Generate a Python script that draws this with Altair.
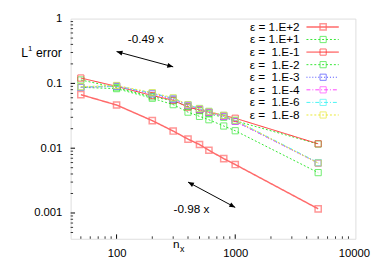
import altair as alt
import pandas as pd

NB = "\u00a0"
nx = [50, 100, 200, 300, 400, 500, 600, 800, 1000, 5000]
labels = ["ε = 1.E+2", "ε = 1.E+1", "ε = " + NB + "1.E-1", "ε = " + NB + "1.E-2",
          "ε = " + NB + "1.E-3", "ε = " + NB + "1.E-4", "ε = " + NB + "1.E-6", "ε = " + NB + "1.E-8"]
err_p2 = [0.067, 0.0464, 0.0266, 0.0184, 0.0138, 0.0114, 0.0093, 0.0069, 0.0056, 0.00116]
err_p1 = [0.113, 0.086, 0.062, 0.054, 0.044, 0.038, 0.034, 0.030, 0.0265, 0.0116]
err_m1 = [0.121, 0.090, 0.065, 0.055, 0.043, 0.039, 0.036, 0.032, 0.029, 0.0117]
err_m2 = [0.087, 0.083, 0.059, 0.047, 0.036, 0.031, 0.0275, 0.022, 0.0186, 0.0042]
err_m3 = [0.087, 0.090, 0.069, 0.057, 0.046, 0.040, 0.036, 0.031, 0.026, 0.0059]
err_m4 = [0.087, 0.091, 0.070, 0.058, 0.046, 0.040, 0.036, 0.031, 0.026, 0.0059]
err_m6 = [0.088, 0.091, 0.071, 0.059, 0.047, 0.041, 0.037, 0.032, 0.027, 0.0060]
err_m8 = [0.089, 0.093, 0.072, 0.060, 0.047, 0.041, 0.037, 0.032, 0.027, 0.0059]
series = [err_p2, err_p1, err_m1, err_m2, err_m3, err_m4, err_m6, err_m8]

colors = ["#ff6a6a", "#33e633", "#ff2a2a", "#33e633", "#4848ff", "#ff44ff", "#44f4f4", "#e8e833"]
dashes = [[1, 0], [2, 2], [1, 0], [2, 2], [1, 2], [4, 2, 1, 2], [4, 2, 1, 2], [2, 2]]
widths = [1.5, 1, 1, 1, 1, 1, 1, 1]

x_major = [100, 1000]
x_minor = [50, 60, 70, 80, 90, 200, 300, 400, 500, 600, 700, 800, 900,
           2000, 3000, 4000, 5000, 6000, 7000, 8000, 9000]
y_major = [0.001, 0.01, 0.1]
y_minor = [0.0005, 0.0006, 0.0007, 0.0008, 0.0009,
           0.002, 0.003, 0.004, 0.005, 0.006, 0.007, 0.008, 0.009,
           0.02, 0.03, 0.04, 0.05, 0.06, 0.07, 0.08, 0.09,
           0.2, 0.3, 0.4, 0.5, 0.6, 0.7, 0.8, 0.9]
x_labels = [100, 1000, 10000]
y_labels = [0.001, 0.01, 0.1, 1]

arrow_x = [100, 300, 400, 1000]
arrow_y = [0.31, 0.18, 0.0030, 0.00122]
ann_text = ["-0.49 x", "-0.98 x"]
ann_x = [176, 428]
ann_y = [0.477, 0.00113]

FONT = "Liberation Sans"
W, H = 291, 225

rows = []
for lab, vals, w in zip(labels, series, widths):
    for xv, yv in zip(nx, vals):
        rows.append({"series": lab, "nx": xv, "err": yv, "sw": w})
df = pd.DataFrame(rows)

xs = alt.Scale(type="log", domain=[41, 10300], nice=False)
ys = alt.Scale(type="log", domain=[0.0004, 1], nice=False)
cs = alt.Scale(domain=labels, range=colors)
ds = alt.Scale(domain=labels, range=dashes)

xaxis = alt.Axis(values=x_labels, format="d", ticks=False, domain=False, grid=False,
                 labelFont=FONT, labelFontSize=11.5, labelColor="black", labelPadding=9,
                 title=None)
yaxis = alt.Axis(values=y_labels, labelExpr="datum.value >= 1 ? '1' : format(datum.value, '')",
                 ticks=False, domain=False, grid=False,
                 labelFont=FONT, labelFontSize=11.5, labelColor="black", labelPadding=9,
                 title=None)

base = alt.Chart(df)
lines = base.mark_line(clip=True).encode(
    x=alt.X("nx:Q", scale=xs, axis=xaxis),
    y=alt.Y("err:Q", scale=ys, axis=yaxis),
    color=alt.Color("series:N", scale=cs, legend=None),
    strokeDash=alt.StrokeDash("series:N", scale=ds, legend=None),
    strokeWidth=alt.StrokeWidth("sw:Q", scale=None),
    detail="series:N",
)
points = base.mark_point(shape="square", size=40, filled=False, clip=True).encode(
    x=alt.X("nx:Q", scale=xs),
    y=alt.Y("err:Q", scale=ys, axis=None),
    color=alt.Color("series:N", scale=cs, legend=None),
    strokeWidth=alt.StrokeWidth("sw:Q", scale=None),
)

# inward ticks
xmaj = alt.Chart(pd.DataFrame({"v": x_major})).mark_rule(color="black", strokeWidth=1).encode(
    x=alt.X("v:Q", scale=xs), y=alt.value(H), y2=alt.value(H - 4.5))
xmin = alt.Chart(pd.DataFrame({"v": x_minor})).mark_rule(color="black", strokeWidth=0.8).encode(
    x=alt.X("v:Q", scale=xs), y=alt.value(H), y2=alt.value(H - 2.5))
ymaj = alt.Chart(pd.DataFrame({"v": y_major})).mark_rule(color="black", strokeWidth=1).encode(
    y=alt.Y("v:Q", scale=ys, axis=None), x=alt.value(0), x2=alt.value(4.5))
ymin = alt.Chart(pd.DataFrame({"v": y_minor})).mark_rule(color="black", strokeWidth=0.8).encode(
    y=alt.Y("v:Q", scale=ys, axis=None), x=alt.value(0), x2=alt.value(2.5))

# arrows
adf = pd.DataFrame({"x1": arrow_x[0::2], "x2": arrow_x[1::2], "y1": arrow_y[0::2], "y2": arrow_y[1::2]})
arrows = alt.Chart(adf).mark_rule(color="black", strokeWidth=1).encode(
    x=alt.X("x1:Q", scale=xs), x2="x2:Q",
    y=alt.Y("y1:Q", scale=ys, axis=None), y2="y2:Q")
head_path = "M0,0 L-1,-0.42 L-1,0.42 Z"
hdf = pd.DataFrame({"x": arrow_x, "y": arrow_y, "ang": [195.1, 15.1, 208.2, 28.2]})
heads = alt.Chart(hdf).mark_point(shape=head_path, filled=True, color="black", size=144, opacity=1).encode(
    x=alt.X("x:Q", scale=xs), y=alt.Y("y:Q", scale=ys, axis=None),
    angle=alt.Angle("ang:Q", scale=None))
anns = alt.Chart(pd.DataFrame({"t": ann_text, "x": ann_x, "y": ann_y})).mark_text(
    font=FONT, fontSize=12, color="black", align="center", baseline="middle").encode(
    x=alt.X("x:Q", scale=xs), y=alt.Y("y:Q", scale=ys, axis=None), text="t:N")

# axis titles (L^1 error, n_x)
def label(txt, px, py, fs, align="left"):
    return alt.Chart(pd.DataFrame({"t": [txt]})).mark_text(
        font=FONT, fontSize=fs, color="black", align=align, baseline="alphabetic").encode(
        x=alt.value(px), y=alt.value(py), text="t:N")

t_L = label("L", -50.5, 39.5, 12.5)
t_1 = label("1", -43.5, 33, 8)
t_err = label("error", -9, 39.5, 12.5, align="right")
t_n = label("n", 104.5, 234.5, 12)
t_x = label("x", 111.8, 238.5, 9)

# legend
ldf = pd.DataFrame({"series": labels, "sw": widths})
ly = alt.Y("series:N", scale=alt.Scale(type="point", domain=labels, range=[8.5, 98.5], padding=0), axis=None)
ltext = alt.Chart(ldf).mark_text(font=FONT, fontSize=12, color="black", align="right",
                                 baseline="middle").encode(x=alt.value(234), y=ly, text="series:N")
lline = alt.Chart(ldf).mark_rule().encode(
    x=alt.value(241), x2=alt.value(274), y=ly,
    color=alt.Color("series:N", scale=cs, legend=None),
    strokeDash=alt.StrokeDash("series:N", scale=ds, legend=None),
    strokeWidth=alt.StrokeWidth("sw:Q", scale=None))
lpt = alt.Chart(ldf).mark_point(shape="square", size=40, filled=False).encode(
    x=alt.value(258), y=ly, color=alt.Color("series:N", scale=cs, legend=None),
    strokeWidth=alt.StrokeWidth("sw:Q", scale=None))

chart = alt.layer(lines, points, xmaj, xmin, ymaj, ymin, arrows, heads, anns,
                  t_L, t_1, t_err, t_n, t_x,
                  ltext, lline, lpt).resolve_scale(y="independent").properties(
    width=W, height=H,
    padding={"left": 64, "top": 8, "right": 19, "bottom": 26},
    autosize=alt.AutoSizeParams(type="none"),
).configure_view(stroke="black", strokeWidth=1).configure(background="white")

chart.save("out.html", embed_options={"renderer": "svg", "actions": False})
